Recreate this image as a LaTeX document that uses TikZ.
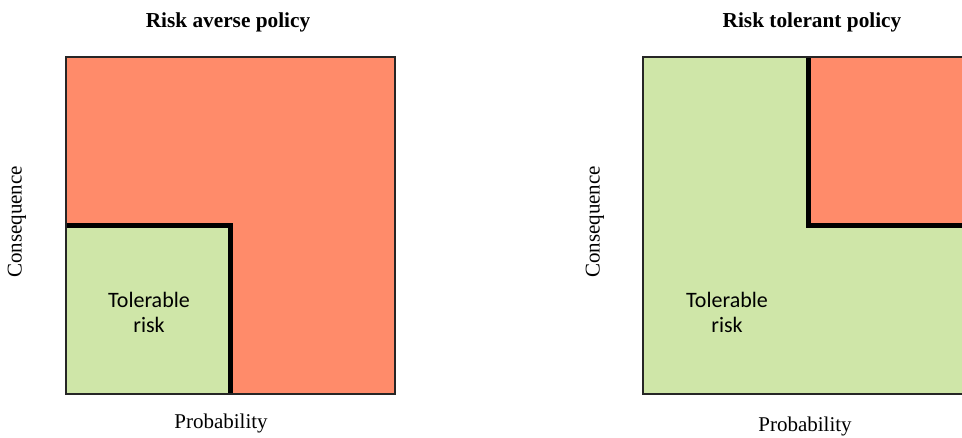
\documentclass[tikz,border=0pt]{standalone}
\usepackage{fontspec}
\setmainfont{Liberation Serif}
\newfontfamily\calib{Carlito}
\definecolor{riskred}{RGB}{255,139,106}
\definecolor{riskgreen}{RGB}{207,230,168}
\begin{document}
\begin{tikzpicture}[x=1pt,y=-1pt,
  frame/.style={draw=black!85,line width=1.2pt},
  border/.style={draw=black,line width=5pt,miter limit=10},
  title/.style={font=\fontsize{21.3}{25}\selectfont\bfseries},
  axis/.style={font=\fontsize{21}{25}\selectfont},
  inner/.style={font=\calib\fontsize{22}{25}\selectfont,align=center}]
\useasboundingbox (0,0) rectangle (962,437);
% left panel
\fill[riskred] (66,57) rectangle (395,394);
\fill[riskgreen] (66,225.5) rectangle (230.5,394);
\draw[border] (66,225.5) -- (230.5,225.5) -- (230.5,394);
\draw[frame] (66,57) rectangle (395,394);
\node[title] (t1) at (228,22) {Risk averse policy};
\node[axis] (p1) at (221,423) {Probability};
\node[axis,rotate=90] (c1) at (17,222) {Consequence};
\node[inner] (r1) at (149,312) {Tolerable\\risk};
% right panel
\fill[riskgreen] (643,57) rectangle (975,394);
\fill[riskred] (808,57) rectangle (975,225.5);
\draw[border] (808,57) -- (808,225.5) -- (975,225.5);
\draw[frame] (975,57) -- (643,57) -- (643,394) -- (975,394);
\node[title] (t2) at (812,22) {Risk tolerant policy};
\node[axis] (p2) at (805,426) {Probability};
\node[axis,rotate=90] (c2) at (595,222) {Consequence};
\node[inner] (r2) at (727,312) {Tolerable\\risk};
\end{tikzpicture}
\end{document}
